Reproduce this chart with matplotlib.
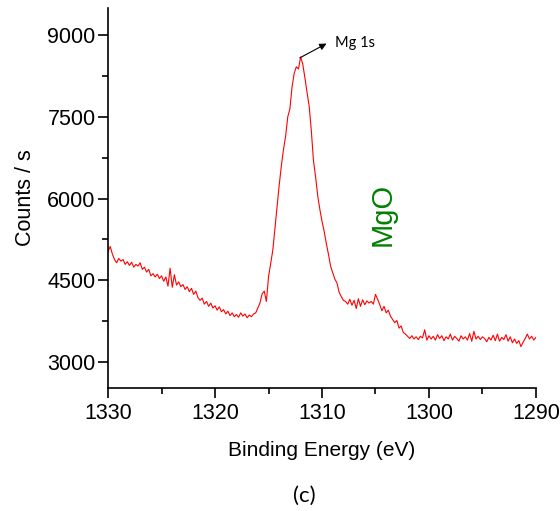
import numpy as np
import matplotlib
matplotlib.use("Agg")
from matplotlib import pyplot as plt
from matplotlib.ticker import MultipleLocator

# Энергия связи (eV), шаг 0.2 eV
energy = np.linspace(1330, 1290, 201)

# Counts / s
counts = [
    5030, 5120, 4980, 4880, 4820, 4900, 4850, 4880, 4790, 4840,
    4770, 4830, 4740, 4790, 4760, 4820, 4700, 4740, 4650, 4700,
    4580, 4620, 4560, 4610, 4530, 4580, 4480, 4560, 4390, 4720,
    4370, 4600, 4410, 4470, 4380, 4420, 4330, 4380, 4290, 4350,
    4240, 4300, 4180, 4130, 4170, 4060, 4110, 4020, 4080, 3990,
    4030, 3950, 4010, 3920, 3960, 3880, 3930, 3850, 3900, 3830,
    3870, 3820, 3900, 3840, 3880, 3810, 3860, 3830, 3880, 3900,
    3990, 4080, 4250, 4300, 4110, 4560, 4800, 5050, 5450, 5850,
    6250, 6600, 6900, 7150, 7500, 7650, 8050, 8300, 8420, 8380,
    8600, 8470, 8220, 7950, 7700, 7250, 6700, 6400, 6050, 5800,
    5580, 5400, 5180, 4980, 4760, 4640, 4520, 4450, 4280, 4200,
    4130, 4110, 4060, 4150, 4040, 4130, 3980, 4160, 4020, 4140,
    4050, 4120, 4080, 4110, 4060, 4240, 4150, 4050, 3940, 4020,
    3900, 3950, 3840, 3780, 3720, 3760, 3620, 3660, 3540, 3510,
    3470, 3430, 3480, 3420, 3460, 3410, 3470, 3440, 3590, 3400,
    3480, 3420, 3470, 3400, 3500, 3430, 3480, 3390, 3460, 3420,
    3510, 3400, 3470, 3430, 3380, 3480, 3420, 3460, 3400, 3520,
    3380, 3560, 3420, 3470, 3410, 3460, 3430, 3370, 3450, 3400,
    3490, 3390, 3510, 3380, 3450, 3410, 3500, 3380, 3460, 3350,
    3420, 3340, 3390, 3280, 3360, 3430, 3510, 3420, 3470, 3400,
    3450,
]

x_ticks = [1330, 1320, 1310, 1300, 1290]
y_ticks = [3000, 4500, 6000, 7500, 9000]

plt.rcParams['font.family'] = ['Liberation Sans', 'DejaVu Sans']

fig = plt.figure(figsize=(5.6, 5.11), dpi=100)
ax = fig.add_axes([0.193, 0.2407, 0.764, 0.7437])

ax.plot(energy, counts, color='red', linewidth=0.8)

ax.set_xlim(1330, 1290)
ax.set_ylim(2520, 9500)
ax.set_xticks(x_ticks)
ax.set_yticks(y_ticks)
ax.xaxis.set_minor_locator(MultipleLocator(5))
ax.yaxis.set_minor_locator(MultipleLocator(750))

ax.spines['top'].set_visible(False)
ax.spines['right'].set_visible(False)
ax.spines['left'].set_linewidth(1.2)
ax.spines['bottom'].set_linewidth(1.2)
ax.tick_params(which='major', direction='out', length=7, width=1.2, labelsize=15.5, pad=2)
ax.tick_params(which='minor', direction='out', length=4, width=1.2)
ax.tick_params(axis='x', which='major', pad=4)

ax.set_xlabel('Binding Energy (eV)', fontsize=15, labelpad=12)
ax.set_ylabel('Counts / s', fontsize=15.5, labelpad=8)

# стрелка от пика к подписи
ax.annotate('', xy=(1309.35, 8870), xytext=(1312.3, 8560),
            arrowprops=dict(arrowstyle='-|>', color='black', lw=0.8))
ax.text(1308.8, 8860, 'Mg 1s', fontsize=10.5, family=['Lato', 'DejaVu Sans'],
        ha='left', va='center')

ax.text(1304.3, 5716, 'MgO', fontsize=21, color='green', rotation=90,
        ha='center', va='center')

fig.text(0.543, 0.029, '(c)', fontsize=16, family=['Lato', 'DejaVu Sans'],
         ha='center', va='center')

plt.savefig('out.png', dpi=100)
